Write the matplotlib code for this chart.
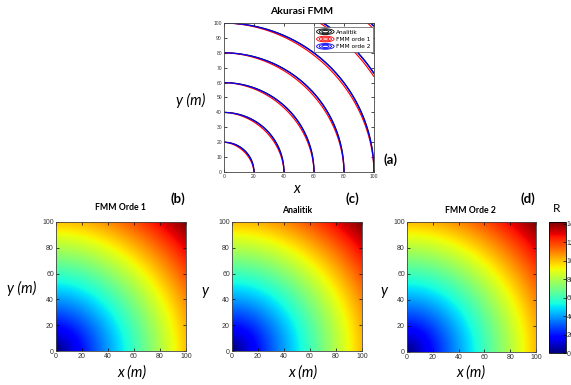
import heapq
import math
import numpy as np
import matplotlib
matplotlib.use("Agg")
import matplotlib.pyplot as plt
from matplotlib.patches import Ellipse
from matplotlib.lines import Line2D
from matplotlib.legend_handler import HandlerBase

# ---------------- data ----------------
grid_x = np.arange(0, 101, 1.0)          # x (m)
grid_y = np.arange(0, 101, 1.0)          # y (m)
source_xy = (0, 0)                       # point source location (grid index)
speed = 1.0
contour_levels = [20, 40, 60, 80, 100, 120, 140]
top_xticks = [0, 20, 40, 60, 80, 100]
top_yticks = [0, 10, 20, 30, 40, 50, 60, 70, 80, 90, 100]
panel_ticks = [0, 20, 40, 60, 80, 100]
cbar_ticks = [0, 20, 40, 60, 80, 100, 120, 140]
legend_labels = ["Analitik", "FMM orde 1", "FMM orde 2"]
legend_colors = ["black", "red", "blue"]
panel_titles = ["FMM Orde 1", "Analitik", "FMM Orde 2"]
panel_tags = ["(b)", "(c)", "(d)"]
panel_ylabels = ["y (m)", "y", "y"]


# ---------------- fast marching ----------------
def fast_marching(nx, ny, h, order, src):
    T = np.full((ny, nx), np.inf)
    known = np.zeros((ny, nx), dtype=bool)
    sj, si = src[1], src[0]
    T[sj, si] = 0.0
    heap = [(0.0, sj, si)]

    def solve(j, i):
        terms = []
        for dj, di in ((0, 1), (1, 0)):
            best = None
            for s in (-1, 1):
                j1, i1 = j + s * dj, i + s * di
                if 0 <= j1 < ny and 0 <= i1 < nx and known[j1, i1]:
                    t1 = T[j1, i1]
                    cand = (1.0 / h ** 2, t1)
                    if order == 2:
                        j2, i2 = j + 2 * s * dj, i + 2 * s * di
                        if 0 <= j2 < ny and 0 <= i2 < nx and known[j2, i2] and T[j2, i2] <= t1:
                            cand = (9.0 / (4 * h ** 2), (4 * t1 - T[j2, i2]) / 3.0)
                    if best is None or t1 < best[2]:
                        best = (cand[0], cand[1], t1)
            if best is not None:
                terms.append(best)
        if not terms:
            return np.inf
        A = sum(t[0] for t in terms)
        B = -2 * sum(t[0] * t[1] for t in terms)
        C = sum(t[0] * t[1] ** 2 for t in terms) - 1.0 / speed ** 2
        disc = B * B - 4 * A * C
        if disc < 0:
            return min(t[2] for t in terms) + h / speed
        return (-B + math.sqrt(disc)) / (2 * A)

    while heap:
        t, j, i = heapq.heappop(heap)
        if known[j, i]:
            continue
        known[j, i] = True
        for dj, di in ((1, 0), (-1, 0), (0, 1), (0, -1)):
            nj, ni = j + dj, i + di
            if 0 <= nj < ny and 0 <= ni < nx and not known[nj, ni]:
                tn = solve(nj, ni)
                if tn < T[nj, ni]:
                    T[nj, ni] = tn
                    heapq.heappush(heap, (tn, nj, ni))
    return T


h = grid_x[1] - grid_x[0]
X, Y = np.meshgrid(grid_x, grid_y)
T_analytic = np.hypot(X - grid_x[source_xy[0]], Y - grid_y[source_xy[1]]) / speed
T_fmm1 = fast_marching(len(grid_x), len(grid_y), h, 1, source_xy)
T_fmm2 = fast_marching(len(grid_x), len(grid_y), h, 2, source_xy)

# ---------------- figure ----------------
W, H = 571, 385
fig = plt.figure(figsize=(W / 100, H / 100), dpi=100)
fig.patch.set_facecolor("white")


def rect(l, t, r, b):
    return [l / W, 1 - b / H, (r - l) / W, (b - t) / H]


def ftext(x, y, s, **kw):
    kw.setdefault("ha", "center")
    kw.setdefault("va", "center")
    fig.text(x / W, 1 - y / H, s, **kw)


tick_col = "#333333"


def style_axes(ax, fs):
    ax.tick_params(direction="in", length=2, width=0.5, top=True, right=True,
                   labelsize=fs, labelcolor=tick_col, pad=1.5)
    for sp in ax.spines.values():
        sp.set_linewidth(0.6)
        sp.set_color("#444444")
    for lab in ax.get_xticklabels() + ax.get_yticklabels():
        lab.set_fontfamily("Liberation Sans")


class NestedEllipseHandler(HandlerBase):
    def create_artists(self, legend, orig_handle, xdescent, ydescent, width,
                       height, fontsize, trans):
        col = orig_handle.get_color()
        cx = width / 2 - xdescent
        cy = height / 2 - ydescent
        arts = []
        for s in (1.0, 0.7, 0.4):
            e = Ellipse((cx, cy), width * s, height * 1.1 * s, fill=False,
                        ec=col, lw=0.6, transform=trans)
            arts.append(e)
        return arts


# ---- panel (a) ----
axa = fig.add_axes(rect(224, 23, 374, 172))
for field, col in zip([T_analytic, T_fmm1, T_fmm2], legend_colors):
    axa.contour(X, Y, field, levels=contour_levels, colors=col, linewidths=0.85)
axa.set_xlim(0, 100)
axa.set_ylim(0, 100)
axa.set_xticks(top_xticks)
axa.set_yticks(top_yticks)
style_axes(axa, 3.6)
handles = [Line2D([], [], color=c) for c in legend_colors]
leg = axa.legend(handles, legend_labels, loc="upper right", fontsize=4.2,
                 handler_map={Line2D: NestedEllipseHandler()},
                 bbox_to_anchor=(0.995, 0.975),
                 handlelength=3.0, handleheight=1.0, borderaxespad=0.0,
                 labelspacing=0.3, borderpad=0.4, handletextpad=0.4,
                 fancybox=False, framealpha=1)
leg.get_frame().set_linewidth(0.5)
leg.get_frame().set_edgecolor("#555555")

ftext(302, 12, "Akurasi FMM", fontsize=7.5, fontweight="bold", family="Lato")
ftext(191, 100, "y (m)", fontsize=10.5, fontstyle="italic", family="Lato")
ftext(297, 189, "x", fontsize=10.5, fontstyle="italic", family="Lato")
ftext(391, 160, "(a)", fontsize=9.5, fontweight="bold", family="Lato")

# ---- panels (b), (c), (d) ----
fields = [T_fmm1, T_analytic, T_fmm2]
panel_rects = [(56, 222, 186, 351), (232, 222, 362, 351), (407, 222, 536, 352)]
title_pos = [(120, 208), (297, 211), (470, 211)]
tag_pos = [(178, 199), (352, 199), (528, 199)]
ylab_pos = [(22, 288), (205, 291), (384, 291)]
xlab_pos = [(132, 373), (303, 373), (471, 373)]

im = None
for k in range(3):
    ax = fig.add_axes(rect(*panel_rects[k]))
    f = fields[k]
    im = ax.imshow(f, origin="lower", extent=(grid_x[0], grid_x[-1], grid_y[0], grid_y[-1]),
                   cmap="jet", vmin=np.nanmin(f), vmax=np.nanmax(f),
                   interpolation="bilinear", aspect="auto")
    ax.set_xlim(0, 100)
    ax.set_ylim(0, 100)
    ax.set_xticks(panel_ticks)
    ax.set_yticks(panel_ticks)
    style_axes(ax, 5.0)
    ftext(*title_pos[k], panel_titles[k], fontsize=6.3, fontweight="bold", family="Lato")
    ftext(*tag_pos[k], panel_tags[k], fontsize=9.5, fontweight="bold", family="Lato")
    ftext(*ylab_pos[k], panel_ylabels[k], fontsize=10.5, fontstyle="italic", family="Lato")
    ftext(*xlab_pos[k], "x (m)", fontsize=10.5, fontstyle="italic", family="Lato")

cax = fig.add_axes(rect(549, 222, 566, 353))
cb = fig.colorbar(im, cax=cax, ticks=cbar_ticks)
cb.outline.set_linewidth(0.6)
cax.tick_params(direction="in", length=2, width=0.5, labelsize=5.0,
                labelcolor=tick_col, pad=0.5)
for lab in cax.get_yticklabels():
    lab.set_fontfamily("Liberation Sans")
ftext(557, 209, "R", fontsize=8.5, family="Lato")

fig.savefig("out.png", dpi=100, facecolor="white")
